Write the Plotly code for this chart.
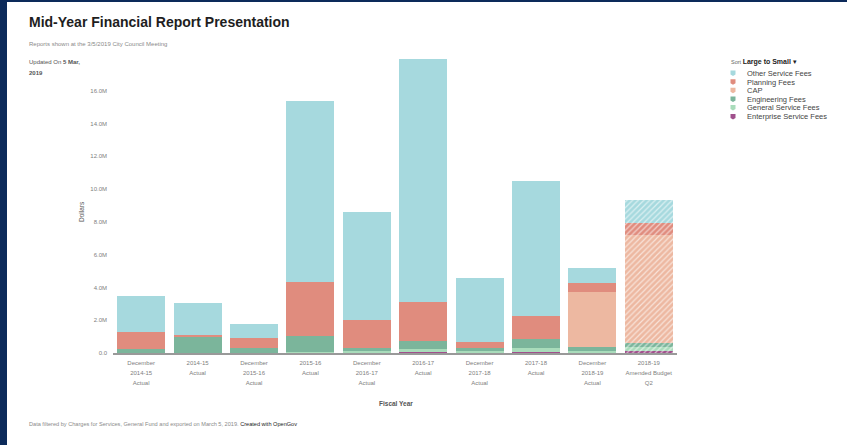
import plotly.graph_objects as go

categories = [
    "December<br>2014-15<br>Actual", "2014-15<br>Actual",
    "December<br>2015-16<br>Actual", "2015-16<br>Actual",
    "December<br>2016-17<br>Actual", "2016-17<br>Actual",
    "December<br>2017-18<br>Actual", "2017-18<br>Actual",
    "December<br>2018-19<br>Actual", "2018-19<br>Amended Budget<br>Q2",
]
enterprise = [0.0, 0.0, 0.0, 0.02, 0.05, 0.12, 0.04, 0.08, 0.02, 0.14]
general = [0.0, 0.0, 0.0, 0.03, 0.10, 0.12, 0.10, 0.21, 0.12, 0.25]
engineering = [0.23, 0.96, 0.33, 1.01, 0.18, 0.47, 0.15, 0.55, 0.25, 0.24]
cap = [0.0, 0.0, 0.0, 0.0, 0.0, 0.0, 0.0, 0.0, 3.32, 6.60]
planning = [1.05, 0.14, 0.59, 3.30, 1.71, 2.40, 0.40, 1.42, 0.55, 0.73]
other = [2.20, 1.93, 0.87, 11.03, 6.57, 14.80, 3.91, 8.24, 0.91, 1.36]

series_names = ["Enterprise Service Fees", "General Service Fees", "Engineering Fees",
                "CAP", "Planning Fees", "Other Service Fees"]
series_values = [enterprise, general, engineering, cap, planning, other]
series_colors = ["#a0508c", "#a9dcbb", "#7bb59b", "#edb8a1", "#e08c7e", "#a6d9de"]

y_ticks = [0, 2, 4, 6, 8, 10, 12, 14, 16]
y_tick_text = ["0.0", "2.0M", "4.0M", "6.0M", "8.0M", "10.0M", "12.0M", "14.0M", "16.0M"]

FONT = "Liberation Sans, Arial, Helvetica, sans-serif"
W, H = 847, 445
L, R, T, B = 113, 170, 58, 92


def px2x(px):
    return (px - L) / (W - L - R)


def py2y(py):
    return (H - B - py) / (H - B - T)


fig = go.Figure()
n = len(categories)
pattern_shapes = [""] * (n - 1) + ["/"]
for name, vals, color in zip(series_names, series_values, series_colors):
    fig.add_trace(go.Bar(
        x=categories,
        y=[v * 1e6 for v in vals],
        name=name,
        marker=dict(
            color=color,
            line=dict(width=0),
            pattern=dict(shape=pattern_shapes, fillmode="overlay",
                         fgcolor="white", fgopacity=0.6, size=4, solidity=0.3),
        ),
    ))

x_tick_text = ["<br>".join(f"<span style='font-size:6px'>{ln}</span>" for ln in c.split("<br>"))
               for c in categories]

fig.update_layout(
    width=W, height=H,
    barmode="stack",
    bargap=0.15,
    margin=dict(l=L, r=R, t=T, b=B, autoexpand=False),
    paper_bgcolor="white",
    plot_bgcolor="white",
    font=dict(family=FONT, color="#777777", size=6),
    showlegend=False,
    xaxis=dict(
        showgrid=False, showline=True, linecolor="#999999", linewidth=1.5,
        ticks="", tickfont=dict(size=7.7, color="#808080"),
        tickvals=categories, ticktext=x_tick_text,
        ticklabelstandoff=1,
    ),
    yaxis=dict(
        range=[0, 18e6], showgrid=False, showline=False, zeroline=False,
        tickvals=[v * 1e6 for v in y_ticks], ticktext=y_tick_text,
        tickfont=dict(size=6, color="#808080"), ticks="",
        ticklabelstandoff=5,
    ),
)

annotations = [
    dict(x=px2x(27), y=py2y(22), xanchor="left", yanchor="middle",
         text="<b>Mid-Year Financial Report Presentation</b>",
         font=dict(size=14, color="#1e1e1e", family=FONT)),
    dict(x=px2x(27), y=py2y(44), xanchor="left", yanchor="middle",
         text="Reports shown at the 3/5/2019 City Council Meeting",
         font=dict(size=6, color="#8a8a8a", family=FONT)),
    dict(x=px2x(27), y=py2y(61.5), xanchor="left", yanchor="middle",
         text="Updated On <b>5 Mar,</b>",
         font=dict(size=6, color="#555555", family=FONT)),
    dict(x=px2x(27), y=py2y(73), xanchor="left", yanchor="middle",
         text="<b>2019</b>",
         font=dict(size=6, color="#555555", family=FONT)),
    dict(x=px2x(27), y=py2y(424), xanchor="left", yanchor="middle",
         text="Data filtered by Charges for Services, General Fund and exported on March 5, 2019. "
              "<span style='color:#222222'>Created with OpenGov</span>",
         font=dict(size=5.6, color="#8a8a8a", family=FONT)),
    dict(x=px2x(81), y=py2y(212), xanchor="center", yanchor="middle", textangle=-90,
         text="Dollars", font=dict(size=6.5, color="#555555", family=FONT)),
    dict(x=px2x(396), y=py2y(403), xanchor="center", yanchor="middle",
         text="<b>Fiscal Year</b>", font=dict(size=6.5, color="#555555", family=FONT)),
    dict(x=px2x(729), y=py2y(62.5), xanchor="left", yanchor="middle",
         text="<span style='font-size:5.5px;color:#666666'>Sort </span><b>Large to Small</b> ▾",
         font=dict(size=7, color="#222222", family=FONT)),
]

shapes = []
legend_rows = [73.3, 82, 90.5, 99.3, 107.8, 116.7]
for i, row_y in enumerate(legend_rows):
    k = len(series_names) - 1 - i
    annotations.append(dict(
        x=px2x(745), y=py2y(row_y), xanchor="left", yanchor="middle",
        text=series_names[k], font=dict(size=7.5, color="#444444", family=FONT)))
    cx = 733
    x0, x1 = px2x(cx - 2.5), px2x(cx + 2.5)
    ytop, ymid, ybot = py2y(row_y - 2.8), py2y(row_y + 1.2), py2y(row_y + 2.8)
    xc = px2x(cx)
    shapes.append(dict(
        type="path", xref="paper", yref="paper",
        path=f"M {x0} {ytop} L {x1} {ytop} L {x1} {ymid} L {xc} {ybot} L {x0} {ymid} Z",
        fillcolor=series_colors[k], line=dict(width=0), layer="above"))

for a in annotations:
    a.update(xref="paper", yref="paper", showarrow=False)

shapes += [
    dict(type="rect", xref="paper", yref="paper",
         x0=px2x(-2), x1=px2x(7), y0=py2y(H + 2), y1=py2y(-2),
         fillcolor="#0c2a5a", line=dict(width=0), layer="above"),
    dict(type="rect", xref="paper", yref="paper",
         x0=px2x(-2), x1=px2x(W + 2), y0=py2y(2), y1=py2y(-2),
         fillcolor="#0c2a5a", line=dict(width=0), layer="above"),
]
fig.update_layout(annotations=annotations, shapes=shapes)

fig.write_html("out.html", config={"displayModeBar": False},
               post_script="document.body.style.margin='0';")
